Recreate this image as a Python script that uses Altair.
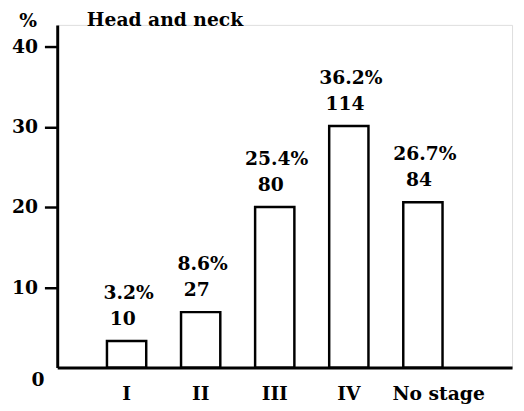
import altair as alt
import pandas as pd

title_text = "Head and neck"
stages = ["I", "II", "III", "IV", "No stage"]
bar_heights = [3.3, 6.9, 20.0, 30.1, 20.6]
pct_labels = ["3.2%", "8.6%", "25.4%", "36.2%", "26.7%"]
count_labels = ["10", "27", "80", "114", "84"]
y_ticks = [0, 10, 20, 30, 40]

df = pd.DataFrame({"stage": stages, "h": bar_heights, "pct": pct_labels, "n": count_labels})

FONT = "DejaVu Serif"
FS = 19

x = alt.X(
    "stage:N",
    sort=stages,
    scale=alt.Scale(paddingInner=0.47, paddingOuter=0.805, align=0.417),
    axis=alt.Axis(
        title=None, labelAngle=0, ticks=False, domainWidth=3, domainColor="black",
        labelFont=FONT, labelFontSize=FS, labelFontWeight="bold", labelColor="black",
        labelPadding=18, labelBaseline="top",
        labelOffset={"condition": {"test": "datum.value == 'No stage'", "value": 16}, "value": 0},
    ),
)
y = alt.Y(
    "h:Q",
    scale=alt.Scale(domain=[0, 42.7], nice=False, zero=True),
    axis=alt.Axis(
        values=y_ticks, grid=False, domainWidth=3, domainColor="black",
        tickSize=13, tickWidth=2.5, tickColor="black",
        tickOpacity={"condition": {"test": "datum.value == 0", "value": 0}, "value": 1},
        labelFont=FONT, labelFontSize=FS, labelFontWeight="bold", labelColor="black",
        labelPadding=7, labelBaseline="middle",
        labelAlign={"condition": {"test": "datum.value == 0", "value": "center"}, "value": "right"},
        labelOffset={"condition": {"test": "datum.value == 0", "value": 12}, "value": 0},
        title="%", titleAngle=0, titleX=-30, titleY=2, titleAlign="center",
        titleBaseline="alphabetic", titleFont=FONT, titleFontSize=FS, titleFontWeight="bold",
        titleColor="black",
    ),
)

base = alt.Chart(df)
bars = base.mark_bar(fill="white", stroke="black", strokeWidth=2.5).encode(x=x, y=y)
counts = base.mark_text(
    font=FONT, fontSize=FS, fontWeight="bold", color="black", baseline="alphabetic", dy=-16, dx=-4
).encode(x=alt.X("stage:N", sort=stages), y="h:Q", text="n:N")
pcts = base.mark_text(
    font=FONT, fontSize=FS, fontWeight="bold", color="black", baseline="alphabetic", dy=-43, dx=2
).encode(x=alt.X("stage:N", sort=stages), y="h:Q", text="pct:N")
title = alt.Chart(pd.DataFrame({"t": [title_text]})).mark_text(
    font=FONT, fontSize=FS, fontWeight="bold", color="black", baseline="alphabetic", align="center"
).encode(x=alt.value(109.5), y=alt.value(1), text="t:N")

chart = alt.layer(bars, counts, pcts, title).properties(
    width=462, height=348,
    autosize=alt.AutoSizeParams(type="none"),
    padding={"left": 50, "top": 14, "right": 4, "bottom": 39},
).configure_view(stroke=None).configure(background="white")

chart.save("out.html", embed_options={"renderer": "svg", "actions": False})
